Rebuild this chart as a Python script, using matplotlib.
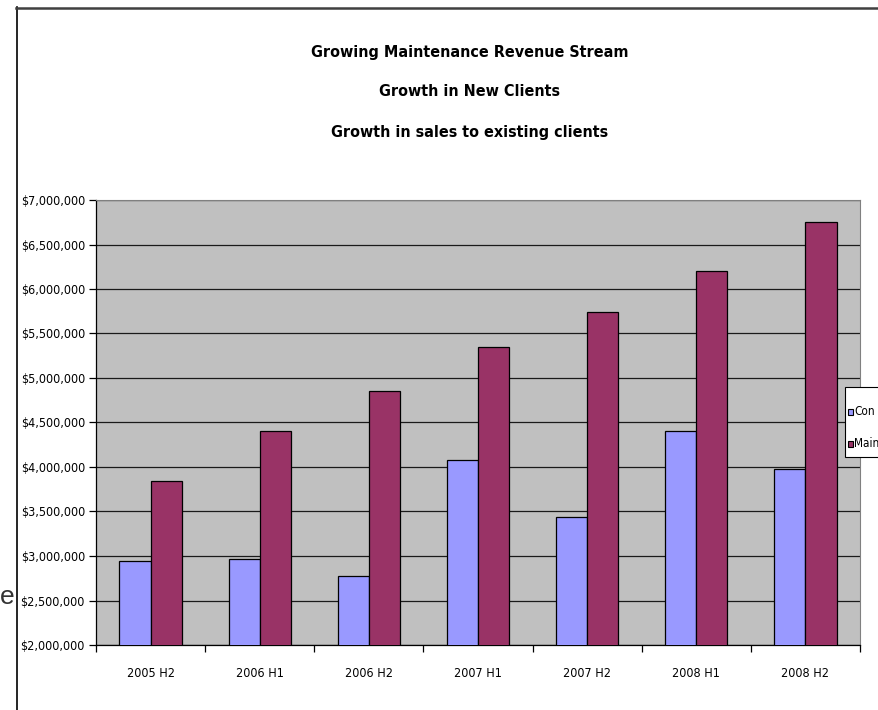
import numpy as np
import matplotlib
matplotlib.use("Agg")
import matplotlib.pyplot as plt
from matplotlib.ticker import FuncFormatter, FixedLocator
from matplotlib.patches import Rectangle
from matplotlib import font_manager

periods = ["2005 H2", "2006 H1", "2006 H2", "2007 H1", "2007 H2", "2008 H1", "2008 H2"]
consulting = [2944000, 2966000, 2779000, 4075000, 3434000, 4404000, 3974000]
maintenance = [3846000, 4408000, 4858000, 5352000, 5742000, 6199000, 6753000]
# legend is cut by the picture edge in the original, only these parts show
legend_labels = ["Con", "Main"]
title_lines = ["Growing Maintenance Revenue Stream",
               "Growth in New Clients",
               "Growth in sales to existing clients"]
colors = ["#9999FF", "#993366"]


def find_font(keys, bold):
    # look for a narrow / condensed face, fall back to plain sans
    for key in keys:
        for f in font_manager.fontManager.ttflist:
            fn = f.fname.replace("\\", "/").split("/")[-1]
            if key in fn and ("Bold" in fn) == bold and "Italic" not in fn and "Oblique" not in fn:
                return font_manager.FontProperties(fname=f.fname)
    return font_manager.FontProperties(family="Liberation Sans",
                                       weight="bold" if bold else "normal")


narrow_keys = ["LiberationSansNarrow", "DejaVuSansCondensed"]
fp_reg = find_font(narrow_keys, False)
fp_bold = find_font(narrow_keys, True)

fig = plt.figure(figsize=(8.79, 7.10), dpi=100)

# slide frame and stray slide text behind the chart
fig.add_artist(plt.Line2D([16.5 / 879, 16.5 / 879], [0, 1 - 7 / 710], color="black", lw=1.2))
fig.add_artist(plt.Line2D([16 / 879, 1], [1 - 7.5 / 710, 1 - 7.5 / 710], color="#404040", lw=1.8))
fig.text(7 / 879, 1 - 597 / 710, "e", fontsize=19, family="Liberation Sans",
         color="#333333", ha="center", va="center")

ax = fig.add_axes([96 / 879, 1 - 645 / 710, (860 - 96) / 879, (645 - 200) / 710])
ax.set_facecolor("#C0C0C0")

x = np.arange(len(periods))
w = 1 / 3.5
ax.bar(x - w / 2, consulting, w, color=colors[0], edgecolor="black", lw=0.9, zorder=3)
ax.bar(x + w / 2, maintenance, w, color=colors[1], edgecolor="black", lw=0.9, zorder=3)

ax.set_xlim(-0.5, len(periods) - 0.5)
ax.set_ylim(2000000, 7000000)
ax.yaxis.set_major_locator(FixedLocator(np.arange(2000000, 7000001, 500000)))
ax.yaxis.set_major_formatter(FuncFormatter(lambda v, p: f"${v:,.0f}"))
ax.grid(axis="y", color="#1a1a1a", lw=0.9, zorder=1)

ax.set_xticks(x)
ax.set_xticklabels(periods)
ax.tick_params(axis="x", which="major", length=0, pad=16)
ax.set_xticks(np.arange(-0.5, len(periods)), minor=True)
ax.tick_params(axis="x", which="minor", length=5, width=0.9, direction="out")
ax.tick_params(axis="y", length=5, width=0.9, direction="out", pad=3)
for lab in ax.get_xticklabels() + ax.get_yticklabels():
    lab.set_fontproperties(fp_reg)
    lab.set_fontsize(9)

for side in ["top", "right"]:
    ax.spines[side].set_color("#808080")
for side in ["left", "bottom"]:
    ax.spines[side].set_color("black")
    ax.spines[side].set_linewidth(0.9)

ty = [52, 92, 132]
for line, y in zip(title_lines, ty):
    fig.text(470 / 879, 1 - y / 710, line, ha="center", va="center",
             fontproperties=fp_bold, fontsize=11.5)

# legend box, running off the right edge like the original
fig.add_artist(Rectangle((845.5 / 879, 1 - 457 / 710), 60 / 879, 70 / 710,
                         transform=fig.transFigure, facecolor="white",
                         edgecolor="black", lw=0.8, zorder=5))
for lab, col, y in zip(legend_labels, colors, [411.5, 443.5]):
    fig.add_artist(Rectangle((848 / 879, 1 - (y + 3) / 710), 5 / 879, 6 / 710,
                             transform=fig.transFigure, facecolor=col,
                             edgecolor="black", lw=0.8, zorder=6))
    fig.text(854.5 / 879, 1 - y / 710, lab, ha="left", va="center",
             fontproperties=fp_reg, fontsize=8.5, zorder=7)

fig.savefig("out.png", dpi=100)
